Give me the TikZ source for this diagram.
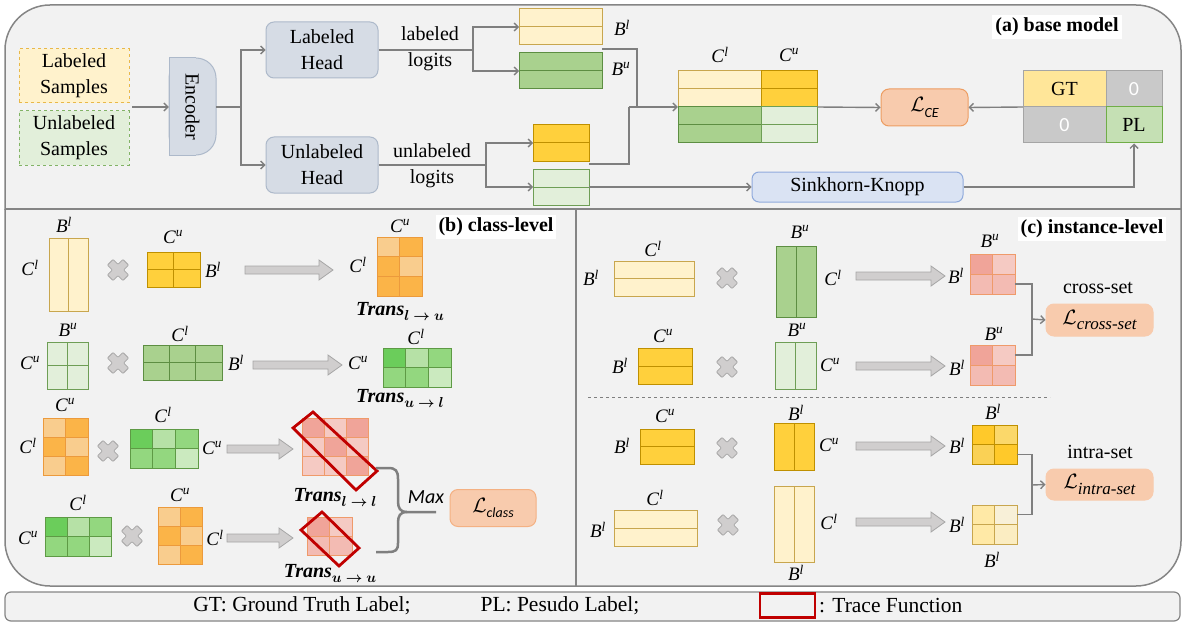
\documentclass[tikz,border=0pt]{standalone}
\usepackage{fontspec}
\setmainfont{Liberation Serif}
\setsansfont{Carlito}
\usepackage{amsmath}
\usepackage{bm}
\usetikzlibrary{arrows.meta,calc}

\definecolor{panelbg}{HTML}{F2F2F2}
\definecolor{panelln}{HTML}{858585}
\definecolor{connc}{HTML}{7F7F7F}
\definecolor{lyel}{HTML}{FFF2CC}
\definecolor{lyeld}{HTML}{C8A64E}
\definecolor{gold}{HTML}{FFD03C}
\definecolor{goldd}{HTML}{BF9000}
\definecolor{mgrn}{HTML}{A9D18E}
\definecolor{mgrnd}{HTML}{5D8E42}
\definecolor{lgrn}{HTML}{E2EFDA}
\definecolor{lgrnd}{HTML}{6E9E55}
\definecolor{headf}{HTML}{D6DCE5}
\definecolor{headd}{HTML}{ADB9CA}
\definecolor{lossf}{HTML}{F8CBAD}
\definecolor{lossd}{HTML}{ED9D62}
\definecolor{lossl}{HTML}{F4B183}
\definecolor{skf}{HTML}{DAE3F3}
\definecolor{skd}{HTML}{8FAADC}
\definecolor{gtf}{HTML}{FFE699}
\definecolor{zerof}{HTML}{C9C9C9}
\definecolor{plf}{HTML}{C5E0B4}
\definecolor{mxd}{HTML}{A5A5A5}
\definecolor{pld}{HTML}{70AD47}
\definecolor{O1}{HTML}{F9CD8E}
\definecolor{O2}{HTML}{FBB448}
\definecolor{Od}{HTML}{EC9A3C}
\definecolor{G1}{HTML}{6BCD5B}
\definecolor{G2}{HTML}{B6E1A6}
\definecolor{G3}{HTML}{93D77F}
\definecolor{G4}{HTML}{CBEABF}
\definecolor{Gd}{HTML}{5E9A45}
\definecolor{R1}{HTML}{F0A499}
\definecolor{R2}{HTML}{F5CAC3}
\definecolor{R3}{HTML}{F3BBB3}
\definecolor{Rd}{HTML}{EF9A6A}
\definecolor{Y1}{HTML}{FFC92A}
\definecolor{Y2}{HTML}{FBD86A}
\definecolor{Y3}{HTML}{FAD155}
\definecolor{L1}{HTML}{FFE9A6}
\definecolor{L2}{HTML}{F8F0D8}
\definecolor{L3}{HTML}{FBEDC2}
\definecolor{trace}{HTML}{C00000}
\definecolor{garf}{HTML}{D0CECE}
\definecolor{gard}{HTML}{A6A6A6}
\definecolor{samy}{HTML}{E8B84A}
\definecolor{samg}{HTML}{82B366}

\newcommand\lbl[2]{\textit{#1}\textsuperscript{\textit{#2}}}
\newcommand\Trans[1]{\textbf{\textit{Trans}}\raisebox{-0.55ex}{\fontsize{15}{15}\selectfont$\bm{#1}$}}
\newcommand\LossS[1]{$\mathcal{L}$\raisebox{-0.55ex}{\fontsize{14}{14}\selectfont\sffamily\itshape #1}}
\newcommand\LossR[1]{$\mathcal{L}$\raisebox{-0.6ex}{\fontsize{17}{17}\selectfont\itshape #1}}

% name, x0, y0, x1, y1, cols, rows, fill, draw
\newcommand\mgrid[9]{%
  \node[inner sep=0pt,outer sep=0pt,minimum width={(#4)-(#2)},minimum height={(#5)-(#3)},fill=#8,draw=#9,line width=1pt] (#1) at ({((#2)+(#4))/2},{((#3)+(#5))/2}) {};
  \ifnum#6>1 \foreach \i in {2,...,#6}{\draw[draw=#9,line width=1pt] ({(#2)+(\i-1)*((#4)-(#2))/#6},#3) -- ({(#2)+(\i-1)*((#4)-(#2))/#6},#5);}\fi
  \ifnum#7>1 \foreach \j in {2,...,#7}{\draw[draw=#9,line width=1pt] (#2,{(#3)+(\j-1)*((#5)-(#3))/#7}) -- (#4,{(#3)+(\j-1)*((#5)-(#3))/#7});}\fi
}
% name, x0, y0, cols, rows, cw, ch, draw, colours
\newcommand\cgrid[9]{%
  \foreach \c [count=\k from 0] in {#9}{%
    \pgfmathtruncatemacro\cc{mod(\k,#4)}%
    \pgfmathtruncatemacro\rr{div(\k,#4)}%
    \draw[fill=\c,draw=#8,line width=1pt] ({#2+\cc*#6},{#3+\rr*#7}) rectangle ++(#6,#7);}
  \node[inner sep=0pt,outer sep=0pt,minimum width={#4*#6},minimum height={#5*#7}] (#1) at ({#2+#4*#6/2},{#3+#5*#7/2}) {};
}
\newcommand\crossm[2]{\begin{scope}[shift={(#1,#2)},rotate=45]
  \draw[fill=garf,draw=gard,line width=0.8pt,rounded corners=0.8pt] (4,11)--(4,4)--(11,4)--(11,-4)--(4,-4)--(4,-11)--(-4,-11)--(-4,-4)--(-11,-4)--(-11,4)--(-4,4)--(-4,11)--cycle;
  \end{scope}}
\newcommand\garrow[3]{\draw[fill=garf,draw=gard,line width=0.8pt] (#1,#3-4)--(#2-14,#3-4)--(#2-14,#3-10)--(#2,#3)--(#2-14,#3+10)--(#2-14,#3+4)--(#1,#3+4)--cycle;}

\tikzset{
  panel/.style={fill=panelbg, draw=panelln, line width=1.5pt},
  panelline/.style={draw=panelln, line width=1.5pt},
  conn/.style={draw=connc, line width=1.4pt},
  arr/.style={conn, -{Straight Barb[length=4pt,width=8pt]}},
  big/.style={font=\fontsize{20}{26}\selectfont, align=center},
  lab/.style={font=\fontsize{19}{20}\selectfont, inner sep=0pt},
  ttl/.style={font=\fontsize{20}{22}\selectfont\bfseries, fill=white, inner sep=3pt},
  sample/.style={big, dashed, line width=1pt, minimum width=110pt, minimum height=54pt, inner sep=0pt},
  head/.style={big, fill=headf, draw=headd, line width=1pt, rounded corners=8pt, minimum width=112pt, minimum height=56pt, inner sep=0pt},
  loss/.style={fill=lossf, line width=1pt, rounded corners=8pt, inner sep=0pt, font=\fontsize{21}{22}\selectfont},
  cellbox/.style={big, line width=1pt, inner sep=0pt},
  tr/.style={draw=trace, line width=2.8pt},
  brc/.style={draw=connc, line width=2.5pt},
  trl/.style={font=\fontsize{20}{22}\selectfont, inner sep=0pt},
  foot/.style={font=\fontsize{21.5}{23}\selectfont, inner sep=0pt},
}

\begin{document}
\begin{tikzpicture}[x=1pt,y=-1pt]
\useasboundingbox (0,0) rectangle (1183,623);
% ---------- panels ----------
\begin{scope}
  \clip (0,0) rectangle (1183,209);
  \draw[panel, rounded corners=45pt] (5,5) rectangle (1181,320);
\end{scope}
\begin{scope}
  \clip (0,209) rectangle (1183,623);
  \draw[panel, rounded corners=45pt] (5,100) rectangle (1181,586);
\end{scope}
\draw[panelline] (5,209) -- (1181,209);
\draw[panelline] (576,209) -- (576,586);

% ---------- (a) base model ----------
\node[sample, fill=lyel, draw=samy] (ls) at (74,76) {Labeled\\Samples};
\node[sample, fill=lgrn, draw=samg] (us) at (74,138) {Unlabeled\\Samples};

\fill[headf, draw=headd, line width=1pt, rounded corners=20pt] (169,58) rectangle (216,155);
\fill[headf] (169.5,58.5) rectangle (196,154.5);
\draw[headd, line width=1pt] (196,58) -- (169,58) -- (169,155) -- (196,155);
\node[inner sep=0pt, minimum width=47pt, minimum height=97pt] (enc) at (192.5,106.5) {};
\node[big, rotate=-90] at (enc) {Encoder};

\coordinate (insrc) at (132,107);
\draw[arr] (insrc) -- (enc.west |- insrc);

\node[head] (lh) at (322,50) {Labeled\\Head};
\node[head] (uh) at (322,165) {Unlabeled\\Head};
\coordinate (esplit) at (241,107);
\draw[conn] (enc.east |- esplit) -- (esplit);
\draw[arr] (esplit) |- (lh.west);
\draw[arr] (esplit) |- (uh.west);

\coordinate (lsplit) at (473,50);
\coordinate (usplit) at (486,165);
\draw[conn] (lh.east) -- (lsplit);
\draw[conn] (uh.east) -- (usplit);
\node[big] at (430,49) {labeled\\logits};
\node[big] at (432,166) {unlabeled\\logits};

\mgrid{bl}{519}{9}{602}{45}{1}{2}{lyel}{lyeld}
\mgrid{bu}{519}{53}{602}{89}{1}{2}{mgrn}{mgrnd}
\mgrid{ug}{533}{125}{589}{161}{1}{2}{gold}{goldd}
\mgrid{ulg}{533}{169}{589}{205}{1}{2}{lgrn}{lgrnd}
\draw[arr] (lsplit) |- (bl.west);
\draw[arr] (lsplit) |- (bu.west);
\draw[arr] (usplit) |- (ug.west);
\draw[arr] (usplit) |- (ulg.west);
\node[lab] at (622,28) {\lbl{B}{l}};
\node[lab] at (621,69) {\lbl{B}{u}};

\mgrid{cm1}{678}{71}{761}{107}{1}{2}{lyel}{lyeld}
\mgrid{cm2}{761}{71}{817}{107}{1}{2}{gold}{goldd}
\mgrid{cm3}{678}{107}{761}{143}{1}{2}{mgrn}{mgrnd}
\mgrid{cm4}{761}{107}{817}{143}{1}{2}{lgrn}{lgrnd}
\node[inner sep=0pt, minimum width=139pt, minimum height=72pt] (cm) at (747.5,107) {};
\node[lab] at (720,55) {\lbl{C}{l}};
\node[lab] at (789,55) {\lbl{C}{u}};

\coordinate (mj) at (629,107);
\draw[conn] ($(bu.north east)+(0,-4)$) -| (637,107) -- (mj);
\draw[conn] ($(ug.south east)+(0,3)$) -| (mj);
\draw[arr] (mj) -- (cm.west);

\node[loss, draw=lossd, minimum width=87pt, minimum height=37pt] (lce) at (924.5,107.5) {\LossS{CE}};
\draw[arr] (cm.east) -- (lce.west);

\node[cellbox, fill=gtf, draw=mxd, minimum width=83pt, minimum height=36pt] (gt) at (1064.5,89) {GT};
\node[cellbox, fill=zerof, draw=mxd, minimum width=56pt, minimum height=36pt] (z1) at (1134,89) {\textcolor{white}{\sffamily 0}};
\node[cellbox, fill=zerof, draw=mxd, minimum width=83pt, minimum height=36pt] (z2) at (1064.5,125) {\textcolor{white}{\sffamily 0}};
\node[cellbox, fill=plf, draw=pld, minimum width=56pt, minimum height=36pt] (pl) at (1134,125) {PL};
\node[inner sep=0pt, minimum width=139pt, minimum height=72pt] (gtm) at (1092.5,107) {};
\draw[arr] (gtm.west) -- (lce.east);

\node[big, fill=skf, draw=skd, line width=1pt, rounded corners=7pt, minimum width=211pt, minimum height=30pt, inner sep=0pt] (sk) at (857.5,187) {Sinkhorn-Knopp};
\draw[arr] (ulg.east) -- (sk.west);
\draw[arr] (sk.east) -| (pl.south);

\node[ttl] at (1057,27) {(a) base model};

% ---------- (b) class-level ----------
\node[ttl] at (496,227) {(b) class-level};
% row 1
\mgrid{b1a}{49}{238}{88}{311}{2}{1}{lyel}{lyeld}
\node[lab] at (64,225) {\lbl{B}{l}};
\node[lab] at (30,268) {\lbl{C}{l}};
\crossm{118}{270}
\mgrid{b1b}{147}{252}{200}{287}{2}{2}{gold}{goldd}
\node[lab] at (173,237) {\lbl{C}{u}};
\node[lab] at (213,270) {\lbl{B}{l}};
\garrow{245}{333}{270}
\cgrid{b1r}{377}{237}{2}{3}{22.5}{19.7}{Od}{O1,O2,O2,O1,O2,O2}
\node[lab] at (400,226) {\lbl{C}{u}};
\node[lab] at (358,265) {\lbl{C}{l}};
\node[trl] at (400,311) {\Trans{l\rightarrow u}};
% row 2
\mgrid{b2a}{47}{342}{88}{389}{2}{2}{lgrn}{lgrnd}
\node[lab] at (68,330) {\lbl{B}{u}};
\node[lab] at (30,363) {\lbl{C}{u}};
\crossm{118}{363}
\mgrid{b2b}{143}{345}{222}{380}{3}{2}{mgrn}{mgrnd}
\node[lab] at (180,334) {\lbl{C}{l}};
\node[lab] at (236,363) {\lbl{B}{l}};
\garrow{253}{342}{365}
\cgrid{b2r}{383}{348}{3}{2}{22.7}{19.5}{Gd}{G1,G2,G3,G3,G3,G4}
\node[lab] at (416,337) {\lbl{C}{l}};
\node[lab] at (358,363) {\lbl{C}{u}};
\node[trl] at (400,398) {\Trans{u\rightarrow l}};
% row 3
\cgrid{b3a}{43}{418}{2}{3}{22.5}{19.3}{Od}{O1,O2,O2,O1,O1,O2}
\node[lab] at (65,405) {\lbl{C}{u}};
\node[lab] at (28,446) {\lbl{C}{l}};
\crossm{108}{451}
\cgrid{b3b}{130}{429}{3}{2}{22.7}{19.5}{Gd}{G1,G2,G3,G3,G3,G4}
\node[lab] at (163,415) {\lbl{C}{l}};
\node[lab] at (212,448) {\lbl{C}{u}};
\garrow{227}{293}{449}
\cgrid{b3r}{302}{418}{3}{3}{22.3}{19.3}{Rd}{R1,R2,R1,R2,R1,R2,R2,R2,R1}
\draw[tr] (293,428) -- (313,412) -- (377,471) -- (356,490) -- cycle;
\node[trl] at (335,497) {\Trans{l\rightarrow l}};
% row 4
\cgrid{b4a}{45}{517}{3}{2}{22.3}{19.5}{Gd}{G1,G2,G3,G3,G3,G4}
\node[lab] at (78,503) {\lbl{C}{l}};
\node[lab] at (28,538) {\lbl{C}{u}};
\crossm{132}{536}
\cgrid{b4b}{158}{507}{2}{3}{22.3}{19.3}{Od}{O1,O2,O2,O1,O1,O2}
\node[lab] at (180,495) {\lbl{C}{u}};
\node[lab] at (215,538) {\lbl{C}{l}};
\garrow{227}{293}{538}
\cgrid{b4r}{307}{517}{2}{2}{22.5}{19}{Rd}{R1,R2,R3,R3}
\draw[tr] (301,530) -- (322,512) -- (359,548) -- (339,566) -- cycle;
\node[trl] at (330,573) {\Trans{u\rightarrow u}};
% brace, max, loss
\coordinate (btip) at (436,512);
\draw[brc] (376,468) -- (388,468) .. controls (396,468) and (398,471) .. (398,479) -- (398,501) .. controls (398,508) and (400,512) .. (407,512) -- (btip);
\draw[brc] (407,512) .. controls (400,512) and (398,516) .. (398,523) -- (398,543) .. controls (398,550) and (396,552) .. (388,552) -- (376,552);
\node[font=\fontsize{20}{22}\selectfont\sffamily\itshape, inner sep=0pt] at (426,497) {Max};
\node[loss, draw=lossl, minimum width=86pt, minimum height=37pt] (lcl) at (493,508) {\LossS{class}};

% ---------- (c) instance-level ----------
\node[ttl] at (1092,229) {(c) instance-level};
% row 1
\mgrid{c1a}{614}{261}{694}{296}{1}{2}{lyel}{lyeld}
\node[lab] at (653,249) {\lbl{C}{l}};
\node[lab] at (591,278) {\lbl{B}{l}};
\crossm{727}{278}
\mgrid{c1b}{776}{246}{816}{317}{2}{1}{mgrn}{mgrnd}
\node[lab] at (800,232) {\lbl{B}{u}};
\node[lab] at (833,278) {\lbl{C}{l}};
\garrow{856}{945}{276}
\cgrid{c1r}{970}{254}{2}{2}{22.5}{20}{Rd}{R1,R2,R3,R3}
\node[lab] at (990,241) {\lbl{B}{u}};
\node[lab] at (956,276) {\lbl{B}{l}};
% row 2
\mgrid{c2a}{638}{348}{692}{384}{1}{2}{gold}{goldd}
\node[lab] at (663,336) {\lbl{C}{u}};
\node[lab] at (620,366) {\lbl{B}{l}};
\crossm{727}{367}
\mgrid{c2b}{775}{342}{816}{389}{2}{1}{lgrn}{lgrnd}
\node[lab] at (797,330) {\lbl{B}{u}};
\node[lab] at (830,365) {\lbl{C}{u}};
\garrow{856}{945}{366}
\cgrid{c2r}{970}{345}{2}{2}{22.5}{20}{Rd}{R1,R2,R3,R3}
\node[lab] at (994,334) {\lbl{B}{u}};
\node[lab] at (957,368) {\lbl{B}{l}};
\draw[connc, line width=0.8pt, dashed] (588,397) -- (1050,397);
% cross-set
\coordinate (cj) at (1032,319);
\node[loss, draw=lossf, minimum width=107pt, minimum height=32pt] (lcs) at (1099.5,320) {\LossR{cross-set}};
\draw[conn] ($(c1r.east)+(0,10)$) -| (cj);
\draw[conn] ($(c2r.east)+(0,-10)$) -| (cj);
\draw[arr] (cj) -- (lcs.west);
\node[big] at (1098,288) {cross-set};
% row 3
\mgrid{c3a}{640}{429}{694}{464}{1}{2}{gold}{goldd}
\node[lab] at (665,416) {\lbl{C}{u}};
\node[lab] at (622,446) {\lbl{B}{l}};
\crossm{727}{448}
\mgrid{c3b}{774}{423}{814}{470}{2}{1}{gold}{goldd}
\node[lab] at (796,413) {\lbl{B}{l}};
\node[lab] at (829,445) {\lbl{C}{u}};
\garrow{856}{945}{446}
\cgrid{c3r}{972}{425}{2}{2}{22.5}{19.5}{goldd}{Y1,Y2,Y3,Y1}
\node[lab] at (993,412) {\lbl{B}{l}};
\node[lab] at (957,446) {\lbl{B}{l}};
% row 4
\mgrid{c4a}{614}{510}{697}{546}{1}{2}{lyel}{lyeld}
\node[lab] at (655,498) {\lbl{C}{l}};
\node[lab] at (598,530) {\lbl{B}{l}};
\crossm{728}{525}
\mgrid{c4b}{774}{486}{814}{562}{2}{1}{lyel}{lyeld}
\node[lab] at (829,522) {\lbl{C}{l}};
\node[lab] at (796,573) {\lbl{B}{l}};
\garrow{856}{945}{522}
\cgrid{c4r}{972}{505}{2}{2}{22.5}{19.5}{lyeld}{L1,L2,L1,L3}
\node[lab] at (957,525) {\lbl{B}{l}};
\node[lab] at (992,560) {\lbl{B}{l}};
% intra-set
\coordinate (ij) at (1032,485);
\node[loss, draw=lossf, minimum width=107pt, minimum height=31pt] (lis) at (1099.5,484.5) {\LossR{intra-set}};
\draw[conn] ($(c3r.east)+(0,10)$) -| (ij);
\draw[conn] ($(c4r.east)+(0,-10)$) -| (ij);
\draw[arr] (ij) -- (lis.west);
\node[big] at (1100,452) {intra-set};

% ---------- footer ----------
\draw[fill=panelbg, draw=panelln, line width=1.2pt, rounded corners=6pt] (5,592) rectangle (1180,621);
\node[foot] at (302,606) {GT: Ground Truth Label;};
\node[foot] at (560,606) {PL: Pesudo Label;};
\node[draw=trace, line width=2.8pt, minimum width=55pt, minimum height=24pt, inner sep=0pt] (trkey) at (787.5,605.5) {};
\node[foot, anchor=west] at (819,606) {: Trace Function};
\end{tikzpicture}
\end{document}
